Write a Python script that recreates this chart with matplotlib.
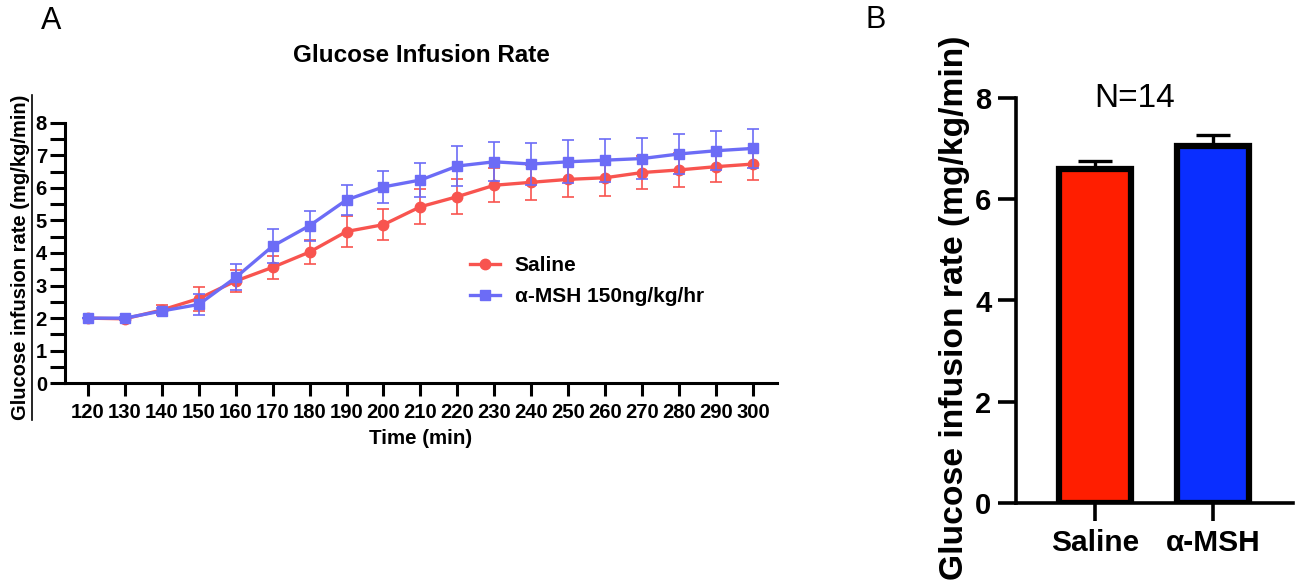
import matplotlib
matplotlib.use("Agg")
import matplotlib.pyplot as plt
from matplotlib.lines import Line2D
import numpy as np

plt.rcParams['font.family'] = ['Liberation Sans', 'DejaVu Sans']

# ---------------- data ----------------
time_min = [120, 130, 140, 150, 160, 170, 180, 190, 200, 210, 220, 230, 240, 250, 260, 270, 280, 290, 300]
saline_mean = [2.00, 1.98, 2.25, 2.60, 3.14, 3.56, 4.03, 4.66, 4.87, 5.42, 5.73, 6.08, 6.17, 6.26, 6.31, 6.47, 6.55, 6.65, 6.73]
saline_sem = [0.00, 0.05, 0.16, 0.37, 0.34, 0.35, 0.36, 0.47, 0.48, 0.53, 0.54, 0.52, 0.54, 0.53, 0.55, 0.52, 0.52, 0.48, 0.50]
msh_mean = [2.00, 2.00, 2.22, 2.42, 3.25, 4.21, 4.84, 5.63, 6.03, 6.24, 6.67, 6.80, 6.73, 6.80, 6.85, 6.90, 7.04, 7.14, 7.21]
msh_sem = [0.00, 0.05, 0.10, 0.31, 0.40, 0.52, 0.46, 0.46, 0.48, 0.53, 0.60, 0.60, 0.64, 0.66, 0.66, 0.64, 0.60, 0.60, 0.60]
series_labels = ["Saline", "α-MSH 150ng/kg/hr"]

bar_groups = ["Saline", "α-MSH"]
bar_means = [6.60, 7.05]
bar_sem = [0.16, 0.22]
n_text = "N=14"

RED_LINE = '#F8544F'
BLUE_LINE = '#6C6CF6'
RED_BAR = '#FF1E00'
BLUE_BAR = '#0A2EFF'

W, H = 1301, 580
fig = plt.figure(figsize=(W / 100, H / 100), dpi=100)


def rect(l, t, r, b):
    return [l / W, 1 - b / H, (r - l) / W, (b - t) / H]


# ---------------- Panel A ----------------
axA = fig.add_axes(rect(65, 122.7, 777, 383.3))
c1 = axA.errorbar(time_min, saline_mean, yerr=saline_sem, color=RED_LINE, lw=2.4,
                  marker='o', ms=7.5, ecolor=RED_LINE, elinewidth=1.2, capsize=4.5,
                  capthick=1.2, label=series_labels[0], zorder=3)
c2 = axA.errorbar(time_min, msh_mean, yerr=msh_sem, color=BLUE_LINE, lw=2.4,
                  marker='s', ms=7.5, ecolor=BLUE_LINE, elinewidth=1.2, capsize=4.5,
                  capthick=1.2, label=series_labels[1], zorder=4)
axA.set_xlim(113.8, 306.5)
axA.set_ylim(0, 8)
axA.set_xticks(time_min)
axA.set_yticks(range(0, 9))
axA.set_yticks(np.arange(0.5, 8, 1.0), minor=True)
for s in ['top', 'right']:
    axA.spines[s].set_visible(False)
for s in ['left', 'bottom']:
    axA.spines[s].set_linewidth(2.2)
axA.tick_params(axis='x', length=9, width=2.2, pad=5, labelsize=14.6)
axA.tick_params(axis='y', which='both', length=11, width=2.2, pad=2, labelsize=14.5)
for lab in axA.get_xticklabels() + axA.get_yticklabels():
    lab.set_fontweight('bold')
axA.set_xlabel("Time (min)", fontsize=14.8, fontweight='bold', labelpad=5)
fig.text(421 / W, 1 - 55 / H, "Glucose Infusion Rate", ha='center', va='center',
         fontsize=17.5, fontweight='bold')
leg = axA.legend(handles=[c1.lines[0], c2.lines[0]], labels=series_labels,
                 loc='upper left', bbox_to_anchor=(0.569, 0.487), frameon=False,
                 prop={'weight': 'bold', 'size': 15}, handlelength=1.45,
                 labelspacing=0.55, borderpad=0, borderaxespad=0, handletextpad=0.7)

ylabA = fig.text(21 / W, 1 - 257.5 / H, "Glucose infusion rate (mg/kg/min)",
                 rotation=90, ha='center', va='center', fontsize=14.5, fontweight='bold')

# ---------------- Panel B ----------------
axB = fig.add_axes(rect(1016, 98.3, 1293, 502.7))
xpos = np.arange(len(bar_groups))
axB.bar(xpos, bar_means, width=0.61, color=[RED_BAR, BLUE_BAR], edgecolor='black',
        linewidth=4.5, zorder=2)
axB.errorbar(xpos, bar_means, yerr=[[0, 0], bar_sem], fmt='none', ecolor='black',
             elinewidth=2.4, capsize=12.5, capthick=2.4, zorder=1)
axB.set_xlim(-0.67, 1.68)
axB.set_ylim(0, 8)
axB.set_yticks([0, 2, 4, 6, 8])
axB.set_xticks(xpos)
axB.set_xticklabels(bar_groups)
for s in ['top', 'right']:
    axB.spines[s].set_visible(False)
for s in ['left', 'bottom']:
    axB.spines[s].set_linewidth(2.6)
axB.tick_params(axis='both', length=12.7, width=2.6, labelsize=21)
axB.tick_params(axis='y', pad=5)
axB.tick_params(axis='x', pad=6, labelsize=21.5)
for lab in axB.get_xticklabels() + axB.get_yticklabels():
    lab.set_fontweight('bold')
axB.text(0.34, 8.0, n_text, ha='center', va='center', fontsize=24)

ylabB = fig.text(955 / W, 1 - 308 / H, "Glucose infusion rate (mg/kg/min)",
                 rotation=90, ha='center', va='center', fontsize=24.2, fontweight='bold')

# panel letters
fig.text(51 / W, 1 - 21 / H, "A", ha='center', va='center', fontsize=22)
fig.text(876 / W, 1 - 20 / H, "B", ha='center', va='center', fontsize=22)

# underline of panel A y label
fig.canvas.draw()
bb = ylabA.get_window_extent()
ux = (bb.x1 + 1) / W
fig.add_artist(Line2D([ux, ux], [bb.y0 / H, bb.y1 / H], color='black', lw=1.2,
                      transform=fig.transFigure))

fig.savefig("out.png", dpi=100)
